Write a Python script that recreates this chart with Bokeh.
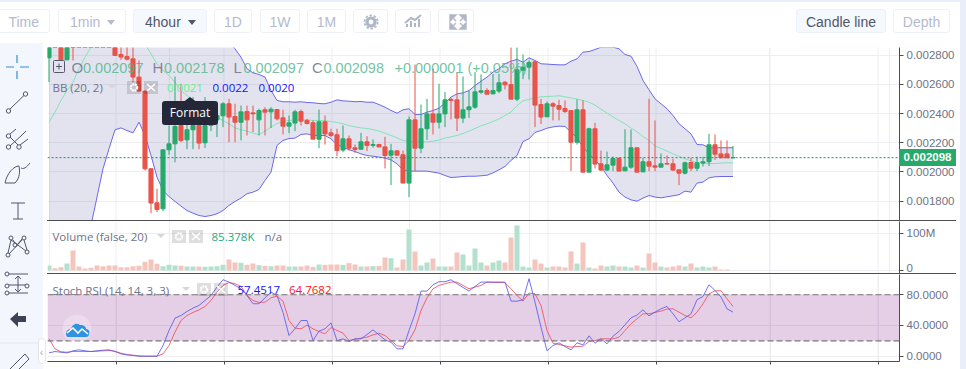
from bokeh.plotting import figure
from bokeh.layouts import column, row
from bokeh.models import Div, Label, Span, BoxAnnotation, FixedTicker, ColumnDataSource
from bokeh.embed import file_html
from bokeh.resources import INLINE

# Candle data, oldest first, in millionths of the quote price
opens = [2782,2900,2880,2768,2900,2990,3020,3040,3030,3000,2950,2870,2805,2791,2775,2650,2554,2022,1789,1748,2152,2193,2318,2220,2289,2318,2200,2318,2357,2385,2467,2380,2341,2414,2405,2357,2426,2412,2428,2371,2314,2335,2414,2353,2337,2225,2344,2268,2255,2150,2227,2166,2156,2207,2182,2188,2172,2115,2145,2118,1924,2357,2163,2296,2398,2341,2398,2497,2494,2369,2426,2444,2547,2558,2535,2554,2615,2599,2499,2697,2718,2755,2462,2378,2467,2455,2435,2421,2204,2426,1999,2296,2056,2013,2047,2092,2008,2033,2166,2001,2070,2042,2033,2058,2056,2015,1992,2065,2026,2061,2070,2186,2124,2124,2097]
highs = [2880,2935,2890,2880,2910,3000,3030,3060,3050,3020,2980,2880,2860,2860,2855,2764,2558,2022,1885,2152,2318,2654,2604,2353,2513,2421,2513,2467,2455,2478,2501,2467,2455,2455,2455,2433,2444,2444,2428,2426,2387,2426,2428,2364,2353,2428,2387,2296,2296,2318,2250,2188,2268,2245,2223,2193,2241,2193,2145,2147,2380,2736,2462,2501,2707,2604,2547,2508,2684,2654,2558,2684,2668,2574,2672,2672,2622,2855,2855,2805,2764,2764,2501,2483,2478,2494,2490,2421,2497,2490,2303,2337,2147,2140,2106,2102,2293,2291,2166,2097,2501,2353,2127,2113,2090,2015,2072,2097,2104,2104,2261,2257,2216,2216,2178]
lows = [2615,2870,2768,2768,2764,2960,2990,3000,2990,2960,2880,2798,2768,2764,2615,2554,2010,1718,1725,1732,2118,2067,2204,2156,2156,2156,2165,2280,2239,2307,2204,2204,2216,2250,2273,2250,2250,2302,2353,2257,2266,2280,2318,2325,2225,2163,2188,2239,2108,2136,2147,2131,2152,2143,2166,2170,2024,1910,2115,1924,1828,2006,2129,2220,2257,2298,2307,2360,2280,2335,2369,2433,2535,2533,2535,2540,2565,2499,2485,2636,2634,2307,2328,2376,2353,2353,2405,2006,2188,1999,1999,2024,2006,2006,2006,2006,2006,2022,1999,1999,2006,2006,2031,2051,2006,1910,1983,2006,2006,2038,2040,2083,2097,2097,2097]
closes = [2870,2880,2768,2860,2870,2960,3000,3020,3000,2960,2890,2798,2787,2773,2650,2554,2022,1787,1743,2152,2193,2312,2216,2289,2318,2198,2318,2410,2387,2467,2376,2341,2412,2357,2398,2421,2410,2430,2364,2314,2337,2412,2348,2332,2225,2344,2261,2250,2147,2227,2163,2154,2207,2182,2188,2172,2113,2145,2115,1924,2357,2163,2296,2398,2341,2398,2494,2490,2369,2426,2446,2549,2556,2533,2558,2611,2597,2499,2700,2718,2750,2458,2376,2467,2451,2430,2414,2204,2426,1999,2296,2054,2013,2049,2092,2006,2033,2166,1999,2070,2040,2033,2056,2054,2013,1992,2063,2026,2063,2070,2186,2122,2097,2097,2098]

# Bollinger bands, oldest first, in millionths
bb_upper = [3050,3080,3100,3120,3140,3160,3170,3180,3190,3190,3190,3190,3180,3170,3160,3150,3140,3130,3120,3100,3080,3060,3040,3020,3000,2985,2970,2950,2930,2910,2889,2844,2786,2707,2679,2668,2650,2558,2490,2481,2481,2478,2481,2476,2474,2469,2467,2478,2494,2487,2485,2481,2483,2478,2478,2462,2444,2421,2403,2426,2433,2394,2394,2410,2421,2437,2474,2513,2535,2542,2558,2592,2622,2650,2684,2707,2741,2759,2771,2752,2782,2764,2741,2739,2736,2734,2734,2759,2775,2821,2825,2839,2855,2855,2855,2844,2805,2793,2723,2627,2563,2501,2467,2433,2387,2330,2296,2261,2188,2186,2166,2166,2166,2166,2166]
bb_mid = [2341,2410,2490,2558,2615,2707,2786,2855,2935,2992,3038,3060,3060,3038,3003,2946,2878,2809,2741,2695,2661,2615,2558,2524,2490,2455,2421,2398,2376,2353,2330,2302,2289,2280,2266,2255,2280,2307,2332,2346,2353,2357,2357,2357,2353,2353,2351,2346,2339,2330,2318,2309,2302,2298,2291,2280,2266,2250,2234,2216,2209,2207,2204,2207,2211,2218,2232,2241,2250,2264,2280,2298,2316,2330,2346,2364,2387,2410,2455,2487,2497,2508,2515,2517,2519,2522,2515,2508,2499,2490,2478,2458,2430,2403,2378,2353,2330,2302,2275,2243,2216,2179,2161,2143,2124,2108,2090,2077,2065,2061,2058,2058,2061,2063,2063]
bb_lower = [1450,1400,1360,1350,1380,1430,1530,1634,1828,2022,2159,2289,2302,2284,2268,2341,2250,2113,1965,1873,1832,1798,1766,1736,1718,1702,1695,1702,1714,1736,1771,1798,1821,1851,1862,1880,1942,1999,2182,2216,2229,2232,2257,2261,2250,2250,2250,2227,2186,2170,2152,2140,2124,2113,2108,2102,2095,2083,2056,2015,2006,2006,2006,2006,1999,1992,1976,1962,1965,1969,1971,1971,1974,1978,1994,2015,2038,2079,2113,2209,2227,2271,2284,2300,2309,2314,2312,2273,2234,2170,2124,2083,2038,1976,1924,1862,1828,1809,1800,1821,1839,1828,1823,1830,1837,1844,1869,1862,1924,1931,1960,1967,1969,1969,1969]

# Volume in millions
volume = [13.4,6.3,8.9,18.8,53.6,10.7,5.4,7.2,13.4,11.6,13.4,13.4,8.9,8.9,11.6,12.5,23.2,29.5,17.9,11.6,15.2,13.4,12.5,10.7,10.7,10.7,9.8,10.7,11.6,15.2,29.5,21.5,20.6,15.2,18.8,14.3,12.5,11.6,13.4,13.4,10.7,10.7,10.7,13.4,9.8,16.1,15.2,16.1,16.1,15.2,19.7,16.1,10.7,10.7,11.6,12.5,34.9,33.1,8.0,
          29.5,110,51,13.4,21.5,32.2,10.7,10.7,10.7,48.3,42.9,13.4,59,21.5,13.4,21.5,26.8,21.5,88.5,120.7,10.7,8.0,29.5,18.8,8.0,10.7,10.7,8.0,51,18.8,75.1,8.0,5.4,13.4,10.7,13.4,10.7,10.7,8.0,13.4,8.0,45.6,21.5,10.7,8.0,10.7,13.4,10.7,18.8,8.0,10.7,8.0,10.7,2.7,2.7,0.085]

# Stochastic RSI
stoch_k = [4.3,6.1,5.2,4.3,7.0,8.3,7.0,6.1,7.0,7.8,8.3,6.1,3.0,1.7,0.9,0,0,0,0,13.9,33.5,49.6,53.0,58.3,62.6,66.1,72.6,79.1,90.0,99.6,96.5,92.2,87.8,79.1,68.3,68.3,76.1,83.5,79.1,57.0,27.0,35.7,46.5,46.5,20.4,32.6,35.7,43.5,20.4,22.6,19.1,22.6,22.6,28.3,34.3,27.8,21.3,18.3,9.6,
           9.6,33.5,55.2,84.8,84.8,93.0,97.0,97.0,99.6,94.4,89.6,84.8,90.9,96.5,96.5,96.5,96.5,96.5,71.7,71.7,73.5,100.9,70.4,37.8,7.0,13.9,17.4,12.6,8.3,17.4,14.8,26.5,17.0,22.6,16.1,26.1,32.2,40.9,50.0,53.5,60.4,52.6,57.4,61.7,64.8,55.2,44.8,50.0,55.2,73.5,77.8,93.0,85.7,77.0,61.7,57.4517]
stoch_d = [22.6,9.6,5.7,5.2,6.1,6.1,6.1,6.1,6.5,7.0,7.4,6.5,3.9,2.2,1.3,0.4,0,0,0,3.0,13.9,31.3,46.5,53.0,57.0,60.4,64.8,72.6,83.5,92.2,96.1,94.4,90.9,79.1,72.6,70.0,70.4,76.1,78.3,71.7,46.5,36.5,35.7,40.4,35.7,32.2,29.1,37.4,33.5,30.0,20.4,22.2,23.5,24.8,27.8,30.0,27.0,20.4,13.5,
           12.6,20.4,34.3,59.6,76.1,87.8,92.2,94.4,96.5,96.5,92.2,87.8,90.0,92.2,96.5,96.1,96.1,95.7,87.8,79.1,71.7,82.2,81.3,66.1,33.5,17.0,15.2,13.5,11.7,12.6,13.0,19.1,20.4,22.6,22.6,22.6,24.8,33.5,42.2,48.7,55.2,55.2,57.0,58.7,61.3,61.7,57.4,53.0,50.0,57.4,68.3,81.3,85.2,85.2,74.8,64.7682]

price_ticks = [0.0018, 0.0020, 0.0022, 0.0024, 0.0026, 0.0028]
volume_ticks = [0, 100]
stoch_ticks = [0, 40, 80]
time_ticks = [11.17, 29.17, 47.17, 65.17, 83.17, 101.17, 120.17, 138.17]
last_price = 0.002098

RED, GREEN = "#e9534a", "#27a96c"
PALE_RED, PALE_GREEN = "#f4c5bd", "#b4e1cd"
AXIS = "#4d4d50"
LABEL = "#6e7287"
GRID = "#eeeef2"
SANS = "Liberation Sans"
LEGEND = "Open Sans"

n = len(opens)
for arr in (highs, lows, closes, bb_upper, bb_mid, bb_lower, volume, stoch_k, stoch_d):
    assert len(arr) == n, len(arr)
idx = list(range(n))
sc = 1e-6
is_up = [c >= o for o, c in zip(opens, closes)]
src = ColumnDataSource(dict(
    x=idx,
    top=[max(o, c) * sc for o, c in zip(opens, closes)],
    bottom=[min(o, c) * sc for o, c in zip(opens, closes)],
    high=[h * sc for h in highs], low=[l * sc for l in lows],
    color=[GREEN if u else RED for u in is_up],
    vcolor=[PALE_GREEN if u else PALE_RED for u in is_up],
    volume=volume,
))

XR = (-0.25, 141.75)


def panel(h, yr, ticks, overrides, bottom=0, xlabels=False):
    f = figure(width=913, height=h + bottom, frame_width=852, frame_height=h,
               x_range=XR, y_range=yr, y_axis_location="right",
               x_axis_location="below" if xlabels else None,
               output_backend="svg", toolbar_location=None, tools="",
               min_border_left=0, min_border_right=61, min_border_top=0, min_border_bottom=bottom,
               outline_line_color=None, background_fill_color="white", border_fill_color="white", margin=0)
    f.ygrid.ticker = FixedTicker(ticks=ticks)
    f.grid.grid_line_color = GRID
    f.grid.grid_line_width = 1
    for t in time_ticks:
        f.add_layout(Span(location=t, dimension="height", line_color=GRID, line_width=1, level="underlay"))
    ax = f.yaxis[0]
    ax.ticker = FixedTicker(ticks=ticks)
    ax.major_label_overrides = overrides
    ax.axis_line_color = AXIS
    ax.major_tick_line_color = AXIS
    ax.major_tick_in = 0
    ax.major_tick_out = 4
    ax.minor_tick_line_color = None
    ax.major_label_standoff = 3
    ax.major_label_text_font = SANS
    ax.major_label_text_font_size = "11.5px"
    ax.major_label_text_color = LABEL
    if xlabels:
        xa = f.xaxis[0]
        xa.ticker = FixedTicker(ticks=time_ticks)
        xa.axis_line_color = AXIS
        xa.major_tick_line_color = AXIS
        xa.major_tick_in = 0
        xa.major_tick_out = 3
        xa.minor_tick_line_color = None
        xa.major_label_text_color = None
        xa.major_label_text_font_size = "1px"
        xa.major_label_standoff = 0
    return f


def note(f, h, x, y, text, color, size="11.5px", font=LEGEND, alpha=1.0):
    f.add_layout(Label(x=x - 47, y=h - y, x_units="screen", y_units="screen", text=text,
                       text_color=color, text_font_size=size, text_font=font,
                       text_baseline="middle", text_alpha=alpha))


# ---- price
p = panel(173, (1667.7e-6, 2852.7e-6),
          price_ticks, {t: f"{t:.6f}" for t in price_ticks})
p.varea(idx, [v * sc for v in bb_lower], [v * sc for v in bb_upper], fill_color="#2a2a80", fill_alpha=0.13)
p.line(idx, [v * sc for v in bb_upper], line_color="#6a68ea", line_width=1)
p.line(idx, [v * sc for v in bb_lower], line_color="#6a68ea", line_width=1)
p.line(idx, [v * sc for v in bb_mid], line_color="#84e2b8", line_width=1)
p.segment("x", "high", "x", "low", color="color", line_width=1, source=src)
p.vbar("x", width=0.68, top="top", bottom="bottom", fill_color="color", line_color="color", line_width=1, source=src)
p.add_layout(Span(location=last_price, dimension="width", line_color="#1f8f5f", line_width=1, line_dash="2 2"))

OFF = 47  # page y of the panel top
def pn(x, y, text, color, **kw):
    note(p, 173, x, y - OFF, text, color, **kw)

for x, label, val in [(71, "O", "0.002097"), (152, "H", "0.002178"), (233, "L", "0.002097"), (311.5, "C", "0.002098")]:
    pn(x, 67, label, "#6e7287", size="15px", font=SANS, alpha=0.85)
    pn(x + (10 if label == "L" else 11.5), 67, val, "#4fb487", size="14.5px", font=SANS, alpha=0.8)
pn(394, 67, "+0.000001 (+0.05%)", "#4fb487", size="14.5px", font=SANS, alpha=0.8)
pn(52, 87, "BB (20, 2)", LABEL)
pn(166.5, 87, "0.0021", "#6df07e", size="11.5px")
pn(212, 87, "0.0022", "#1414ff", size="11.5px")
pn(258, 87, "0.0020", "#1414ff", size="11.5px")

# ---- volume
v = panel(52, (-8, 131.4), volume_ticks, {0: "0", 100: "100M"})
v.vbar("x", width=0.84, top="volume", bottom=0, fill_color="vcolor", line_color=None, source=src)
note(v, 52, 52, 236 - 221, "Volume (false, 20)", LABEL)
note(v, 52, 211, 236 - 221, "85.378K", "#2aa882", size="11.5px")
note(v, 52, 264, 236 - 221, "n/a", LABEL, size="11.5px")

# ---- stoch rsi
s = panel(87, (-6.9, 106.4), stoch_ticks, {t: f"{t:.4f}" for t in stoch_ticks}, bottom=8, xlabels=True)
s.add_layout(BoxAnnotation(bottom=20, top=80, fill_color="#7a0f85", fill_alpha=0.2, line_color=None, level="underlay"))
for lv in (20, 80):
    s.add_layout(Span(location=lv, dimension="width", line_color="#7c7478", line_width=1.2, line_dash="6 3"))
s.line(idx, stoch_d, line_color="#f0505f", line_width=1, line_alpha=0.85)
s.line(idx, stoch_k, line_color="#5a5aee", line_width=1, line_alpha=0.85)
note(s, 87, 52, 289.5 - 274, "Stoch RSI (14, 14, 3, 3)", LABEL)
note(s, 87, 237, 289.5 - 274, "57.4517", "#1414ff", size="11.5px")
note(s, 87, 288.5, 289.5 - 274, "64.7682", "#ff1414", size="11.5px")


# ---- page furniture (all page coordinates)
def btn(x0, x1, text, color="#b4bad0", bg="white", caret=None):
    c = ""
    if caret:
        c = f'<span style="position:absolute;left:{caret}px;top:10px;width:0;height:0;border-left:4.5px solid transparent;border-right:4.5px solid transparent;border-top:5px solid {color if bg != "white" else "#b4bad0"}"></span>'
    return (f'<div style="position:absolute;left:{x0}px;top:9px;width:{x1-x0-2}px;height:24px;border:1px solid #eef1f7;border-radius:3px;'
            f'background:{bg};color:{color};font:14px Liberation Sans;line-height:24px;text-align:{"left" if caret else "center"};white-space:nowrap">'
            f'<span style="margin-left:{11 if caret else 0}px">{text}</span>{c}</div>')


def square(x, y):
    return (f'<svg style="position:absolute;left:{x}px;top:{y}px" width="31" height="13">'
            '<rect x="0" y="0" width="14" height="13" fill="#000" fill-opacity="0.13"/><rect x="17" y="0" width="14" height="13" fill="#000" fill-opacity="0.13"/>'
            '<circle cx="7" cy="6.5" r="3.2" fill="none" stroke="white" stroke-width="2.2" stroke-dasharray="2 0.6"/>'
            '<path d="M20 3 L28 10 M28 3 L20 10" stroke="white" stroke-width="1.5"/></svg>')


def caret(x, y):
    return f'<svg style="position:absolute;left:{x}px;top:{y}px" width="9" height="5"><path d="M0 0 L8 0 L4 4 Z" fill="#d6d6dc"/></svg>'


ic = "#50566a"
sidebar = f'''
<svg style="position:absolute;left:0;top:43px" width="43" height="326">
<rect width="43" height="326" fill="#f3f6fd"/>
<path d="M17 12 V20 M17 28 V36 M6 24 H14 M20 24 H29" stroke="#2e90d8" stroke-width="1.2" fill="none"/>
<g fill="none" stroke="{ic}" stroke-width="1">
<circle cx="8.5" cy="68" r="2.2"/><circle cx="25.5" cy="51" r="2.2"/><path d="M10 66 L24 52.5"/>
<circle cx="8.5" cy="93" r="2.2"/><circle cx="8.5" cy="104" r="2.2"/><circle cx="19" cy="104" r="2.2"/>
<path d="M10 91 L16 86 M10 94 L15 99 L18 102 M20 102 L28 96 M10 103 L22 92 L26 88"/>
<path d="M5 140 C7 130 14 123 19 123 C20 128 20 135 15 140 Z"/><path d="M21 125 C25 127 28 122 30 120"/>
<path d="M11 160 H25 M18 160 V176 M13 176 H23"/>
<circle cx="11" cy="195" r="2"/><circle cx="24" cy="195" r="2"/><circle cx="15" cy="202" r="2"/><circle cx="8" cy="212" r="2"/><circle cx="27" cy="209" r="2"/>
<path d="M8 210 L11 197 M13 197 L15 200 M17 202 L22 196 M24 197 L27 207 M9 211 L22 197 M11 197 L26 208"/>
<path d="M8 231 H28 M8 242 H28 M8 250 H28"/><circle cx="7" cy="231" r="2" fill="#f3f6fd"/><circle cx="7" cy="243" r="2" fill="#f3f6fd"/><circle cx="27" cy="243" r="2" fill="#f3f6fd"/><circle cx="7" cy="250" r="2" fill="#f3f6fd"/>
<path d="M18 233 V249 M15 236 L18 233 L21 236 M15 246 L18 249 L21 246"/>
</g>
<path d="M10 276 L18 269 V273 H26 V279 H18 V284 Z" fill="#3c4356"/>
<path d="M0 300 H43" stroke="#e4e8f1"/>
<path d="M10 326 L25 311 L29 316 L16 329" fill="none" stroke="{ic}" stroke-width="1"/>
</svg>
<div style="position:absolute;left:37.5px;top:338px;width:8px;height:26px;border:1px solid #e3e6ee;border-radius:5px;background:white;color:#a8adbd;font:11px Liberation Sans;line-height:26px;text-align:center">&#8249;</div>
<svg style="position:absolute;left:62px;top:314px" width="30" height="30"><circle cx="15" cy="15" r="14.5" fill="white" fill-opacity="0.25"/>
<path d="M4 20 C4 16 7 15 9 15 C10 11 14 8 18 11 C22 11 24 13 24 15 C27 15 28 18 27 20 C27 22 26 23 24 23 H6 C5 23 4 22 4 20 Z" fill="#2f93e0"/>
<path d="M5 19 L11 14 L16 19 L20 15 L26 20" fill="none" stroke="white" stroke-width="1.6"/></svg>
'''
overlay = f'''<div style="position:absolute;left:0;top:0;width:966px;height:369px;overflow:hidden;pointer-events:none">
<div style="position:absolute;left:0;top:0;width:966px;height:2px;background:#e9eef8"></div>
<div style="position:absolute;left:960px;top:0;width:6px;height:369px;background:#e9eef8"></div>
{btn(-10, 52, "Time").replace("text-align:center", "text-align:right;padding-right:10px;box-sizing:border-box")}
{btn(58, 128, "1min", caret=48)}
{btn(133, 209, "4hour", color="#50566a", bg="#f5f8fd", caret=54)}
{btn(214, 254, "1D")}{btn(260, 302, "1W")}{btn(307, 348, "1M")}{btn(353, 390, "")}{btn(395, 433, "")}{btn(438, 476, "")}
{btn(796, 888, "Candle line", color="#50566a", bg="#f5f8fd")}{btn(893, 952, "Depth")}
<svg style="position:absolute;left:353px;top:9px" width="123" height="26">
<circle cx="18" cy="13" r="4" fill="none" stroke="#b0b6ca" stroke-width="3.2"/>
<circle cx="18" cy="13" r="6.6" fill="none" stroke="#b0b6ca" stroke-width="1.8" stroke-dasharray="2.4 1.8"/>
<path d="M54 18 V15 M58 18 V12 M62 18 V14 M66 18 V10 M52 14 L58 9 L62 11 L68 6" stroke="#b0b6ca" stroke-width="2" fill="none"/>
<path d="M97 6 L103 6 L97 12 Z M113 6 L107 6 L113 12 Z M97 20 L103 20 L97 14 Z M113 20 L107 20 L113 14 Z M99 8 L103 12 M111 8 L107 12 M99 18 L103 14 M111 18 L107 14" fill="#b0b6ca" stroke="#b0b6ca" stroke-width="1.4"/>
</svg>
{sidebar}
<svg style="position:absolute;left:53px;top:60px" width="12" height="13"><rect x="0.5" y="0.5" width="11" height="12" rx="1" fill="none" stroke="#55596a"/><path d="M3 6.5 H9 M6 3.5 V9.5" stroke="#55596a"/></svg>
{square(127, 81)}{caret(108, 85)}
{square(172, 230)}{caret(157, 234)}
{square(197, 283)}{caret(182, 287)}
<div style="position:absolute;left:162px;top:101px;width:56px;height:24px;background:#232738;border-radius:3px;color:white;font:12px Open Sans;line-height:24px;text-align:center">Format</div>
<svg style="position:absolute;left:184px;top:97px" width="12" height="5"><path d="M0 4.5 L6 0 L12 4.5 Z" fill="#232738"/></svg>
<div style="position:absolute;left:899px;top:149px;width:57px;height:17px;background:#27a96c;color:white;font:bold 11.5px Liberation Sans;line-height:17px;text-align:center">0.002098</div>
</div>'''

top = Div(text=overlay, width=966, height=47, margin=0,
          styles={"position": "relative", "z-index": "10", "overflow": "visible"})
left = Div(text="", width=47, height=322, margin=0)
right = Div(text="", width=6, height=322, margin=0)


def sep():
    return Div(text="", width=909, height=1, margin=0, styles={"background": AXIS})


charts = column(p, sep(), v, sep(), s, margin=0, spacing=0)
page = column(top, row(left, charts, right, margin=0, spacing=0), margin=0, spacing=0)
open("out.html", "w").write(file_html(page, INLINE))
